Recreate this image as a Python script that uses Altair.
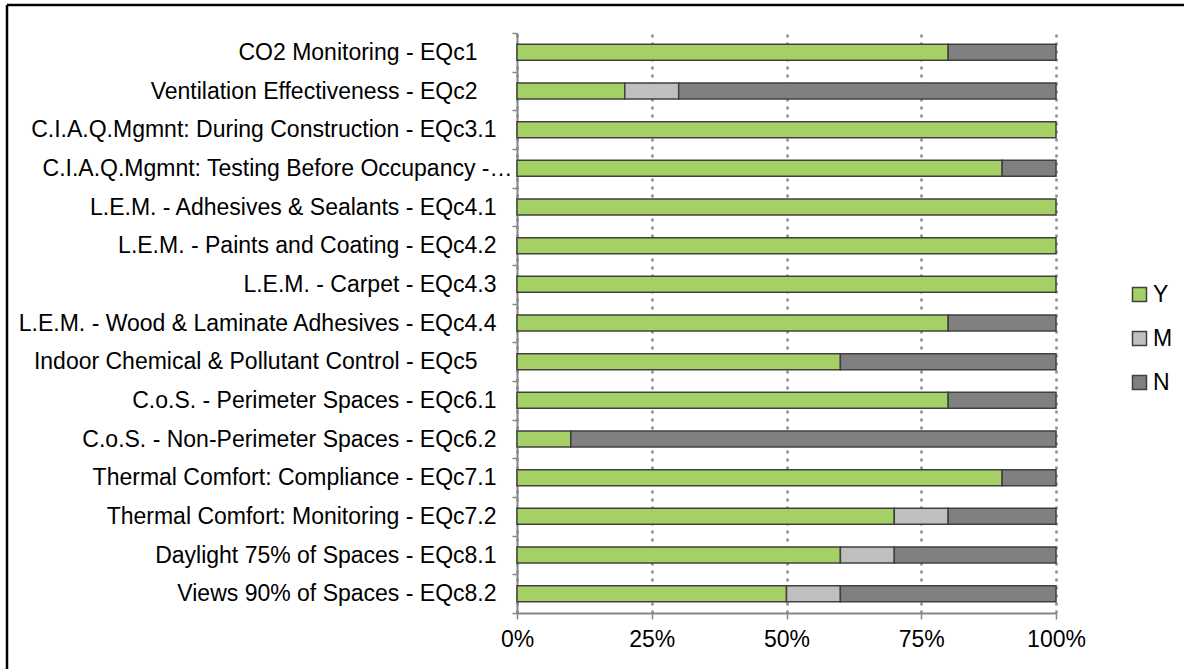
import altair as alt
import pandas as pd

# Credit names (top to bottom) and the share of responses per answer, in percent
credits = [
    "CO2 Monitoring - EQc1",
    "Ventilation Effectiveness - EQc2",
    "C.I.A.Q.Mgmnt: During Construction - EQc3.1",
    "C.I.A.Q.Mgmnt: Testing Before Occupancy -…",
    "L.E.M. - Adhesives & Sealants - EQc4.1",
    "L.E.M. - Paints and Coating - EQc4.2",
    "L.E.M. - Carpet - EQc4.3",
    "L.E.M. - Wood & Laminate Adhesives - EQc4.4",
    "Indoor Chemical & Pollutant Control - EQc5",
    "C.o.S. - Perimeter Spaces - EQc6.1",
    "C.o.S. - Non-Perimeter Spaces - EQc6.2",
    "Thermal Comfort: Compliance  - EQc7.1",
    "Thermal Comfort: Monitoring - EQc7.2",
    "Daylight 75% of Spaces - EQc8.1",
    "Views 90% of Spaces - EQc8.2",
]
yes_pct = [80, 20, 100, 90, 100, 100, 100, 80, 60, 80, 10, 90, 70, 60, 50]
maybe_pct = [0, 10, 0, 0, 0, 0, 0, 0, 0, 0, 0, 0, 10, 10, 10]
no_pct = [20, 70, 0, 10, 0, 0, 0, 20, 40, 20, 90, 10, 20, 30, 40]

answers = ["Y", "M", "N"]
answer_colors = ["#A4D065", "#BFBFBF", "#808080"]

rows = []
for i, name in enumerate(credits):
    for k, (ans, vals) in enumerate(zip(answers, [yes_pct, maybe_pct, no_pct])):
        rows.append({"credit": name, "answer": ans, "pct": vals[i], "rank": k})
df = pd.DataFrame(rows)

W, H = 539, 580
LEFT, TOP = 517, 33
FONT = "Liberation Sans"
FS = 23

short_names = [credits[0], credits[1], credits[8]]
short_test = "indexof(" + str(short_names) + ", datum.value) >= 0"
cut_test = "datum.value == '" + credits[3] + "'"

bars = (
    alt.Chart(df)
    .transform_filter("datum.pct > 0")
    .mark_bar(size=16, stroke="#404040", strokeWidth=1.5)
    .encode(
        y=alt.Y(
            "credit:N",
            sort=credits,
            title=None,
            scale=alt.Scale(paddingInner=0, paddingOuter=0),
            axis=alt.Axis(
                tickBand="extent",
                tickSize=5,
                tickColor="#868686",
                tickWidth=1.5,
                domainColor="#868686",
                domainWidth=2,
                labelFont=FONT,
                labelFontSize=FS,
                labelColor="#000000",
                labelLimit=600,
                labelPadding={
                    "condition": [
                        {"test": short_test, "value": 35},
                        {"test": cut_test, "value": 0},
                    ],
                    "value": 16,
                },
                grid=False,
            ),
        ),
        x=alt.X(
            "pct:Q",
            stack="normalize",
            title=None,
            scale=alt.Scale(domain=[0, 1], nice=False),
            axis=alt.Axis(
                values=[0, 0.25, 0.5, 0.75, 1],
                format=".0%",
                tickSize=6,
                tickColor="#868686",
                tickWidth=1.5,
                domainColor="#868686",
                domainWidth=2,
                labelFont=FONT,
                labelFontSize=FS,
                labelColor="#000000",
                labelPadding=9,
                labelFlush=False,
                grid=True,
                gridColor="#8C8C8C",
                gridWidth=2.5,
                gridDash=[3, 5],
            ),
        ),
        color=alt.Color(
            "answer:N",
            scale=alt.Scale(domain=answers, range=answer_colors),
            sort=answers,
            legend=alt.Legend(
                title=None,
                orient="none",
                legendX=611,
                legendY=250,
                symbolType="square",
                symbolSize=196,
                symbolStrokeColor="#404040",
                symbolStrokeWidth=1.5,
                labelFont=FONT,
                labelFontSize=FS,
                labelColor="#000000",
                labelOffset=2,
                rowPadding=20,
            ),
        ),
        order=alt.Order("rank:Q"),
    )
)

# Outer frame of the chart (left and top edges)
frame_top = alt.Chart(pd.DataFrame({"k": [0]})).mark_rule(
    color="#000000", strokeWidth=2.5
).encode(x=alt.value(7 - LEFT), x2=alt.value(W + 200), y=alt.value(5 - TOP))
frame_left = alt.Chart(pd.DataFrame({"k": [0]})).mark_rule(
    color="#000000", strokeWidth=2.5
).encode(x=alt.value(7 - LEFT), y=alt.value(5 - TOP), y2=alt.value(H + 200))

chart = (
    alt.layer(bars, frame_top, frame_left)
    .properties(
        width=W,
        height=H,
        autosize=alt.AutoSizeParams(type="none"),
        padding={"left": LEFT, "top": TOP, "right": 1184 - LEFT - W, "bottom": 669 - TOP - H},
        background="#FFFFFF",
    )
    .configure_view(stroke=None)
)

chart.save("out.html", embed_options={"renderer": "svg", "actions": False})
